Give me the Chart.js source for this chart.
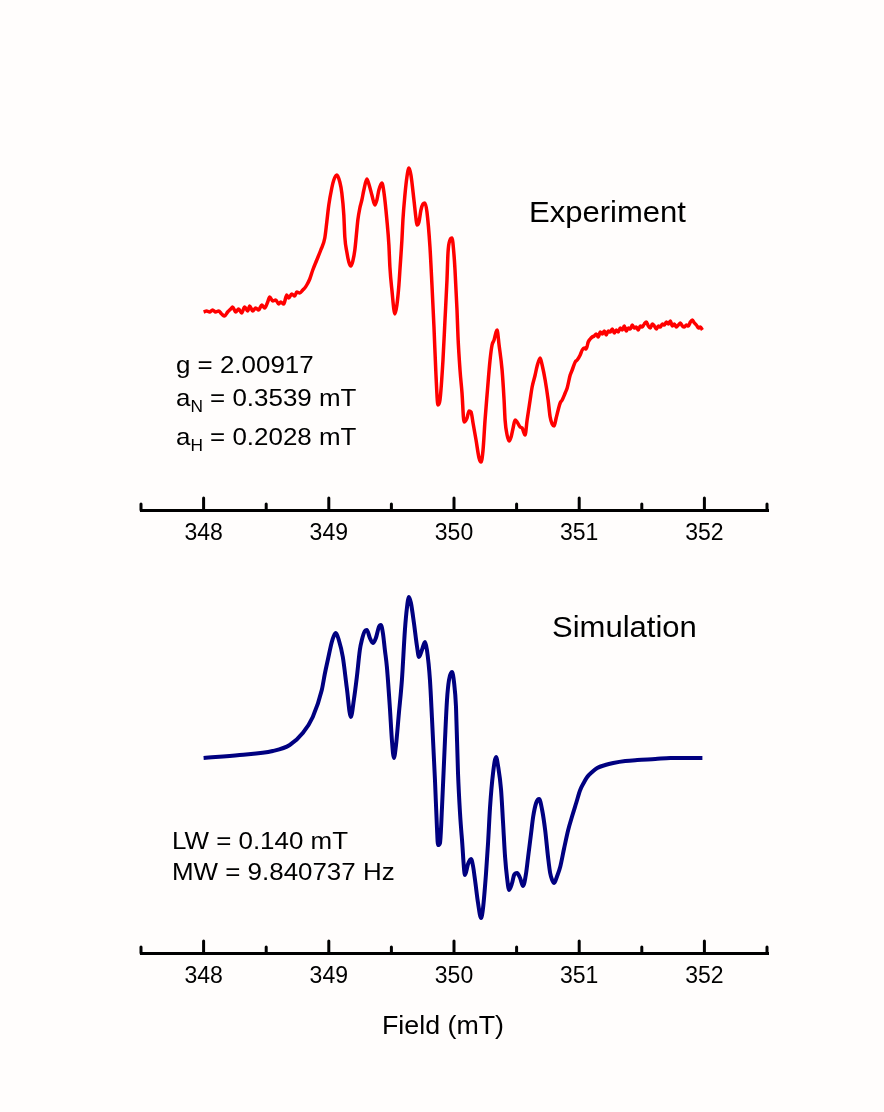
<!DOCTYPE html>
<html>
<head>
<meta charset="utf-8">
<title>EPR spectrum</title>
<script src="https://cdn.jsdelivr.net/npm/chart.js@4.4.0/dist/chart.umd.min.js"></script>
<style>
  body { margin: 0; background: #fffdfc; }
  #page { position: relative; width: 884px; height: 1112px; overflow: hidden;
          font-family: "Liberation Sans", Arial, sans-serif; color: #000; }
  canvas { position: absolute; left: 0; }
  .lbl { position: absolute; white-space: nowrap; line-height: 1; transform-origin: 0 0; }
  .lbl sub { font-size: 16px; line-height: 1; vertical-align: -0.4em; }
</style>
</head>
<body>
<div id="page">
  <canvas id="expChart" width="884" height="560" style="top:0"></canvas>
  <canvas id="simChart" width="884" height="552" style="top:560px"></canvas>

  <div class="lbl" style="left:529px; top:198px; font-size:29px; transform:scaleX(1.07)">Experiment</div>
  <div class="lbl" style="left:176px; top:353px; font-size:24px; transform:scaleX(1.08)">g = 2.00917</div>
  <div class="lbl" style="left:176px; top:386px; font-size:24px; transform:scaleX(1.08)">a<sub>N</sub> = 0.3539 mT</div>
  <div class="lbl" style="left:176px; top:425px; font-size:24px; transform:scaleX(1.08)">a<sub>H</sub> = 0.2028 mT</div>

  <div class="lbl" style="left:552px; top:613px; font-size:29px; transform:scaleX(1.07)">Simulation</div>
  <div class="lbl" style="left:172px; top:829px; font-size:24px; transform:scaleX(1.08)">LW = 0.140 mT</div>
  <div class="lbl" style="left:172px; top:860px; font-size:24px; transform:scaleX(1.08)">MW = 9.840737 Hz</div>

  <div class="lbl" style="left:382px; top:1012px; font-size:26px; transform:scaleX(1.03)">Field (mT)</div>
</div>

<script>
"use strict";

// field axis (mT)
const fieldMin = 347.5;
const fieldMax = 352.5;
const majorTicks = [348, 349, 350, 351, 352];
const minorTicks = [347.5, 348.5, 349.5, 350.5, 351.5, 352.5];

const expField = [
  348.000, 348.024, 348.048, 348.072, 348.096, 348.120, 348.144, 348.168, 348.192, 348.216,
  348.232, 348.256, 348.280, 348.304, 348.328, 348.352, 348.368, 348.392, 348.416, 348.440,
  348.464, 348.488, 348.512, 348.528, 348.552, 348.576, 348.600, 348.616, 348.640, 348.664,
  348.680, 348.704, 348.728, 348.744, 348.768, 348.792, 348.808, 348.824, 348.848, 348.872,
  348.904, 348.936, 348.968, 348.984, 349.000, 349.024, 349.040, 349.064, 349.088, 349.104,
  349.120, 349.128, 349.144, 349.160, 349.176, 349.192, 349.208, 349.224, 349.232, 349.248,
  349.264, 349.280, 349.304, 349.320, 349.344, 349.368, 349.384, 349.400, 349.424, 349.440,
  349.464, 349.480, 349.488, 349.504, 349.528, 349.544, 349.560, 349.568, 349.584, 349.592,
  349.608, 349.624, 349.640, 349.656, 349.680, 349.696, 349.704, 349.720, 349.736, 349.752,
  349.768, 349.784, 349.808, 349.824, 349.840, 349.856, 349.872, 349.888, 349.912, 349.928,
  349.944, 349.952, 349.968, 349.984, 350.000, 350.008, 350.024, 350.032, 350.048, 350.064,
  350.080, 350.104, 350.120, 350.136, 350.152, 350.176, 350.200, 350.216, 350.232, 350.248,
  350.264, 350.288, 350.304, 350.320, 350.336, 350.344, 350.360, 350.384, 350.400, 350.408,
  350.424, 350.440, 350.456, 350.472, 350.488, 350.504, 350.528, 350.544, 350.568, 350.584,
  350.608, 350.624, 350.648, 350.664, 350.688, 350.704, 350.728, 350.752, 350.768, 350.784,
  350.800, 350.816, 350.832, 350.848, 350.864, 350.888, 350.904, 350.928, 350.944, 350.968,
  350.984, 351.008, 351.024, 351.040, 351.056, 351.072, 351.088, 351.104, 351.120, 351.136,
  351.152, 351.168,
  351.184, 351.200, 351.216, 351.232, 351.248, 351.264, 351.280, 351.296, 351.312, 351.328,
  351.344, 351.360, 351.376, 351.392, 351.408, 351.424, 351.440, 351.456, 351.472, 351.488,
  351.504, 351.520, 351.536, 351.552, 351.568, 351.584, 351.600, 351.616, 351.632, 351.648,
  351.664, 351.680, 351.696, 351.712, 351.728, 351.744, 351.760, 351.776, 351.792, 351.808,
  351.824, 351.840, 351.856, 351.872, 351.888, 351.904, 351.920, 351.936, 351.952, 351.968,
  351.984
];
const expSignal = [
  0, 1, 0, 2, 0, 1, -2, -4, 0, 3,
  5, 0, 3, -1, 5, 1, 6, 1, 4, 2,
  7, 4, 10, 15, 11, 12, 8, 10, 8, 17,
  14, 18, 16, 20, 19, 22, 24, 27, 33, 42,
  52, 62, 74, 90, 107, 124, 132, 137, 130, 119,
  97, 75, 60, 50, 46, 51, 62, 82, 92, 104,
  112, 122, 133, 128, 117, 107, 112, 122, 129, 120,
  92, 67, 45, 22, -2, 7, 27, 42, 72, 92,
  117, 135, 144, 137, 112, 94, 87, 90, 102, 108,
  109, 100, 65, 27, -15, -63, -93, -88, -48, -8,
  32, 59, 72, 74, 57, 42, 2, -25, -58, -81,
  -110, -106, -99, -100, -111, -128, -146, -150, -138, -108,
  -83, -48, -33, -28, -20, -18, -33, -58, -88, -108,
  -123, -129, -125, -116, -108, -110, -115, -116, -123, -108,
  -88, -75, -63, -54, -46, -53, -68, -88, -105, -112,
  -114, -106, -98, -91, -88, -81, -76, -63, -58, -50,
  -48, -43, -38, -36, -37, -30, -27, -25, -24, -22,
  -25, -20,
  -22, -19, -23, -19, -20, -17, -21, -18, -20, -16,
  -18, -14, -19, -16, -17, -13, -16, -15, -18, -14,
  -15, -12, -10, -14, -16, -12, -14, -17, -14, -15,
  -12, -13, -10, -12, -9, -14, -12, -15, -13, -11,
  -14, -15, -13, -14, -10, -8, -11, -13, -16, -15,
  -18
];

// simulated spectrum (arbitrary units)
const simField = [
  348.000, 348.288, 348.552, 348.688, 348.792, 348.872, 348.944, 348.968, 348.992, 349.024,
  349.040, 349.056, 349.080, 349.112, 349.144, 349.176, 349.200, 349.224, 349.248, 349.264,
  349.288, 349.304, 349.328, 349.352, 349.376, 349.400, 349.416, 349.432, 349.448, 349.464,
  349.488, 349.504, 349.520, 349.536, 349.560, 349.584, 349.608, 349.624, 349.640, 349.656,
  349.680, 349.704, 349.720, 349.744, 349.768, 349.784, 349.808, 349.824, 349.848, 349.864,
  349.872, 349.888, 349.904, 349.928, 349.944, 349.960, 349.984, 350.000, 350.016, 350.032,
  350.048, 350.064, 350.088, 350.112, 350.136, 350.152, 350.168, 350.192, 350.216, 350.232,
  350.256, 350.272, 350.288, 350.312, 350.336, 350.352, 350.376, 350.392, 350.408, 350.424,
  350.440, 350.464, 350.480, 350.504, 350.528, 350.552, 350.576, 350.592, 350.616, 350.632,
  350.656, 350.680, 350.704, 350.728, 350.752, 350.768, 350.784, 350.800, 350.824, 350.848,
  350.880, 350.912, 350.944, 350.976, 351.008, 351.040, 351.064, 351.104, 351.144, 351.208,
  351.272, 351.368, 351.464, 351.608, 351.728, 351.984
];
const simSignal = [
  0, 3, 7, 13, 25, 41, 68, 84, 98, 116,
  122, 125, 118, 101, 70, 41, 58, 81, 108, 118,
  127, 128, 120, 115, 120, 131, 133, 125, 108, 91,
  50, 18, 0, 12, 45, 78, 128, 150, 161, 155,
  135, 112, 101, 108, 116, 108, 78, 40, -22, -70,
  -87, -85, -50, 18, 58, 78, 86, 76, 51, -15,
  -55, -82, -117, -106, -101, -108, -122, -145, -160, -150,
  -115, -85, -49, -15, 1, -8, -32, -65, -99, -120,
  -132, -125, -117, -115, -120, -128, -115, -99, -75, -59,
  -45, -41, -52, -72, -100, -115, -122, -125, -118, -109,
  -90, -72, -58, -45, -32, -24, -19, -14, -10, -7,
  -5, -3, -2, -1, 0, 0
];

Chart.defaults.font.family = "'Liberation Sans', Arial, sans-serif";
Chart.defaults.color = "#000";

// ticks point up from the axis line, majors longer than minors
const tickMarks = {
  id: "tickMarks",
  afterDraw(chart) {
    const ctx = chart.ctx;
    const xs = chart.scales.x;
    const y0 = chart.chartArea.bottom;
    ctx.save();
    ctx.strokeStyle = "#000";
    ctx.lineWidth = 3;
    ctx.lineCap = "round";
    majorTicks.forEach((v) => {
      const px = xs.getPixelForValue(v);
      ctx.beginPath();
      ctx.moveTo(px, y0);
      ctx.lineTo(px, y0 - 12);
      ctx.stroke();
    });
    minorTicks.forEach((v) => {
      const px = xs.getPixelForValue(v);
      ctx.beginPath();
      ctx.moveTo(px, y0);
      ctx.lineTo(px, y0 - 6);
      ctx.stroke();
    });
    ctx.restore();
  },
};

function makeSpectrum(canvasId, fields, signal, color, width, yRange, pad) {
  return new Chart(document.getElementById(canvasId), {
    type: "line",
    data: {
      datasets: [
        {
          data: fields.map((f, i) => ({ x: f, y: signal[i] })),
          borderColor: color,
          borderWidth: width,
          pointRadius: 0,
          cubicInterpolationMode: "monotone",
          fill: false,
        },
      ],
    },
    options: {
      responsive: false,
      animation: false,
      devicePixelRatio: 1,
      layout: { autoPadding: false, padding: pad },
      plugins: { legend: { display: false }, tooltip: { enabled: false } },
      scales: {
        x: {
          type: "linear",
          min: fieldMin,
          max: fieldMax,
          afterBuildTicks: (s) => {
            s.ticks = majorTicks.map((v) => ({ value: v }));
          },
          afterFit: (s) => {
            s.height = 40;
          },
          grid: { drawOnChartArea: false, drawTicks: false, lineWidth: 3, color: "#000" },
          border: { display: true, color: "#000", width: 3 },
          ticks: { font: { size: 23 }, color: "#000", padding: 10, maxRotation: 0, autoSkip: false },
        },
        y: { display: false, min: yRange[0], max: yRange[1] },
      },
    },
    plugins: [tickMarks],
  });
}

makeSpectrum("expChart", expField, expSignal, "#ff0000", 3.5, [-198, 212],
  { top: 100, bottom: 10, left: 141, right: 117 });
makeSpectrum("simChart", simField, simSignal, "#000080", 4, [-195, 178],
  { top: 20, bottom: 119, left: 141, right: 117 });
</script>
</body>
</html>
